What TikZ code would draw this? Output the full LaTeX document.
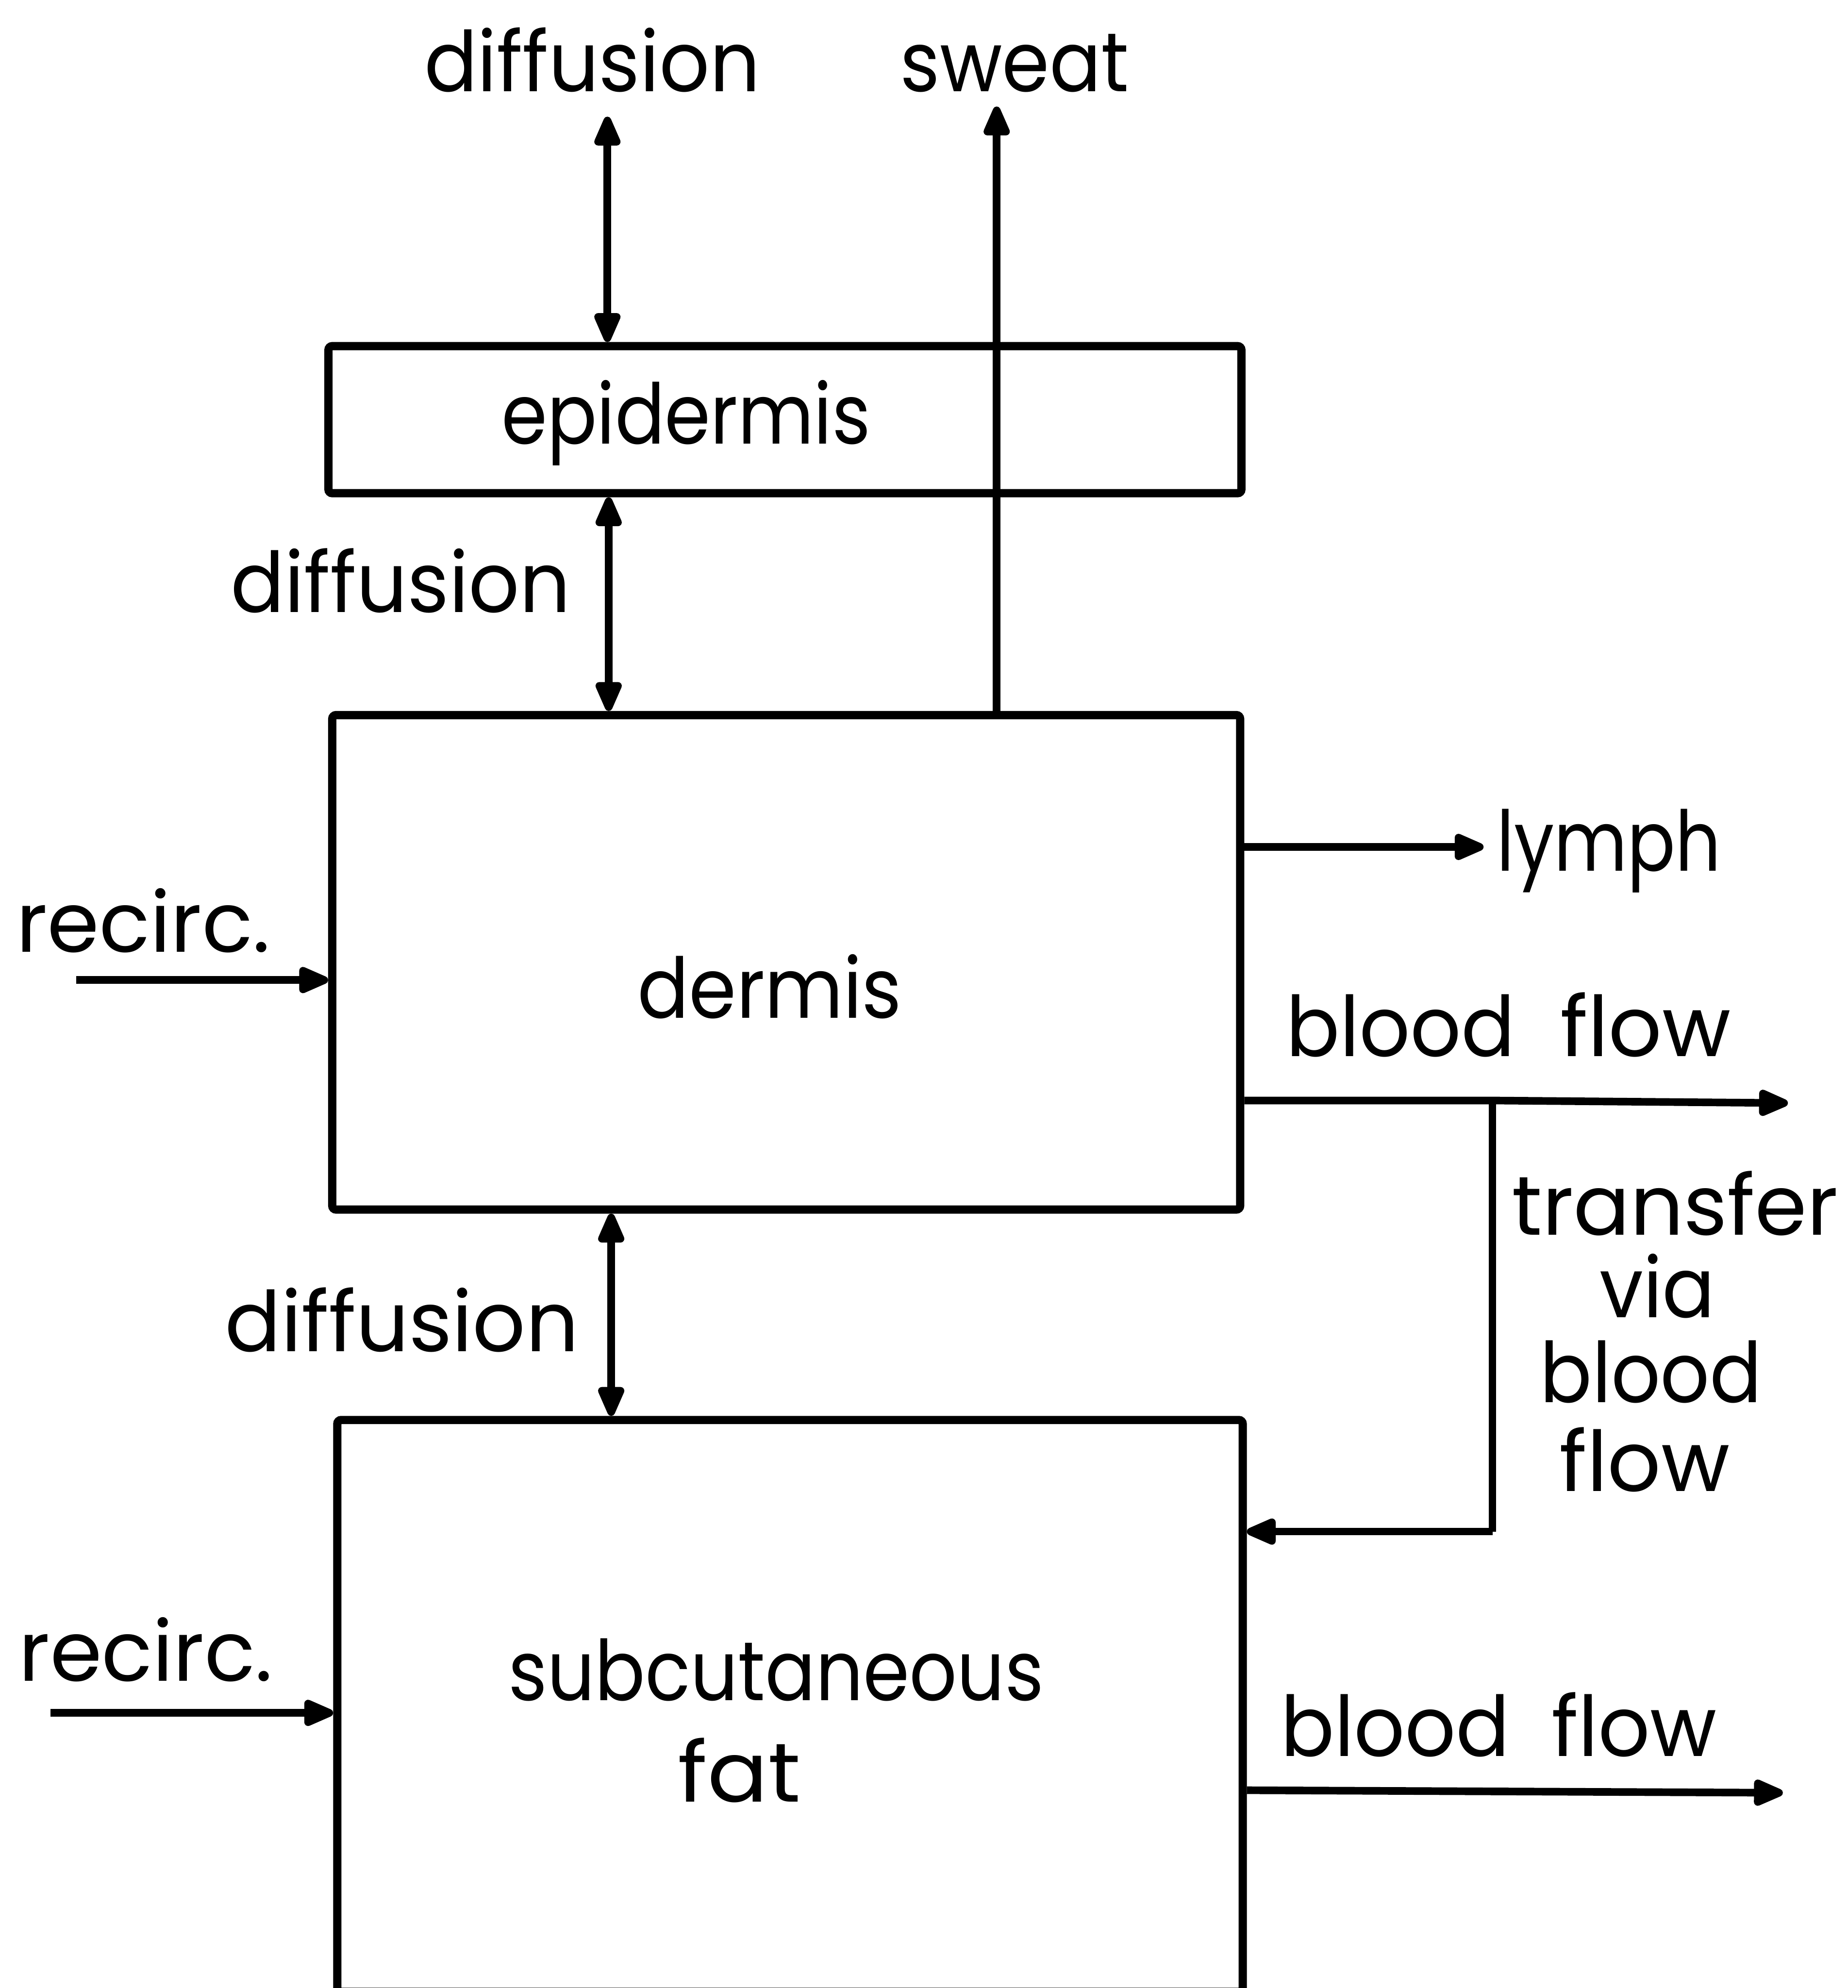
\documentclass[tikz,border=0pt]{standalone}
\usepackage{fontspec}
\usetikzlibrary{arrows.meta}
\newfontfamily\lettering{Poppins}
\newcommand{\letterfont}{\lettering\fontsize{66}{80}\selectfont}
% hand lettering is a little narrower for some words
\newcommand{\squeeze}[2]{\scalebox{#1}[1]{#2}}
\tikzset{
  x=1pt, y=-1pt,
  layer/.style={draw, line width=6.5pt, rounded corners=3pt, inner sep=0pt},
  lbl/.style={font=\letterfont, inner sep=0pt, anchor=base},
  flow/.style={line width=6pt, -{Triangle[length=28pt,width=22pt,round]}},
  both/.style={line width=6pt, {Triangle[length=28pt,width=22pt,round]}-{Triangle[length=28pt,width=22pt,round]}},
  plain/.style={line width=6pt, line join=round}
}
\begin{document}
\begin{tikzpicture}
\clip (0,0) rectangle (1457,1568);

% skin layers
\node[layer, minimum width=720pt, minimum height=116pt] (epi) at (619,331) {};
\node[layer, minimum width=716pt, minimum height=390pt] (derm) at (620,759) {};
\node[layer, minimum width=714pt, minimum height=451pt] (fat) at (623,1345.5) {};

% layer names
\node[lbl] (epiname) at (541,350) {\squeeze{0.88}{epidermis}};
\node[lbl] (dermname) at (607,803) {\squeeze{0.91}{dermis}};
\node[lbl] (fatname1) at (612,1341) {\squeeze{0.89}{subcutaneous}};
\node[lbl] (fatname2) at (583,1421) {\squeeze{1.07}{fat}};

% outer labels
\node[lbl] (difftop) at (467,72) {\squeeze{0.94}{diffusion}};
\node[lbl] (sweat) at (800,72) {\squeeze{0.91}{sweat}};
\node[lbl] (diffmid) at (316,483) {\squeeze{0.95}{diffusion}};
\node[lbl] (difflow) at (317,1066) {\squeeze{0.99}{diffusion}};
\node[lbl] (rec1) at (113,751) {recirc.};
\node[lbl] (rec2) at (115,1326) {recirc.};
\node[lbl, anchor=base west] (lymph) at (1180,687) {\squeeze{0.85}{lymph}};
\node[lbl, anchor=base west] (bf1) at (1014,833) {\squeeze{0.95}{blood}\hspace{36pt}flow};
\node[lbl, anchor=base west] (bf2) at (1010,1385) {\squeeze{0.95}{blood}\hspace{33pt}\squeeze{0.97}{flow}};
\node[lbl] (tr1) at (1321,974) {transfer};
\node[lbl] (tr2) at (1307,1039) {\squeeze{0.93}{via}};
\node[lbl] (tr3) at (1302,1106) {\squeeze{0.92}{blood}};
\node[lbl] (tr4) at (1297,1176) {flow};

% free ends of the connectors
\coordinate (difftopend) at (479,92);
\coordinate (sweatend) at (786,84);
\coordinate (lymphend) at (1170,668);
\coordinate (bf1end) at (1410,870);
\coordinate (bf2end) at (1406,1414);
\coordinate (rec1start) at (60,773);
\coordinate (rec2start) at (40,1351);
\coordinate (split) at (1177,868);
\coordinate (turn) at (1177,1208);

% diffusion between layers and to the surface
\draw[both] (difftopend) -- (difftopend |- epi.north);
\draw[both] (derm.north -| 480,0) -- (epi.south -| 480,0);
\draw[both] (fat.north -| 482,0) -- (derm.south -| 482,0);

% sweat
\draw[flow] (derm.north -| sweatend) -- (sweatend);

% lymph and blood flow out of the dermis
\draw[flow] (derm.east |- lymphend) -- (lymphend);
\draw[flow] (derm.east |- split) -- (split) -- (bf1end);
\draw[plain] (split) -- (turn);
\draw[flow] (turn) -- (fat.east |- turn);

% blood flow out of the fat
\draw[flow] (fat.east |- 0,1412) -- (bf2end);

% recirculation into the layers
\draw[flow] (rec1start) -- (derm.west |- rec1start);
\draw[flow] (rec2start) -- (fat.west |- rec2start);
\end{tikzpicture}
\end{document}
